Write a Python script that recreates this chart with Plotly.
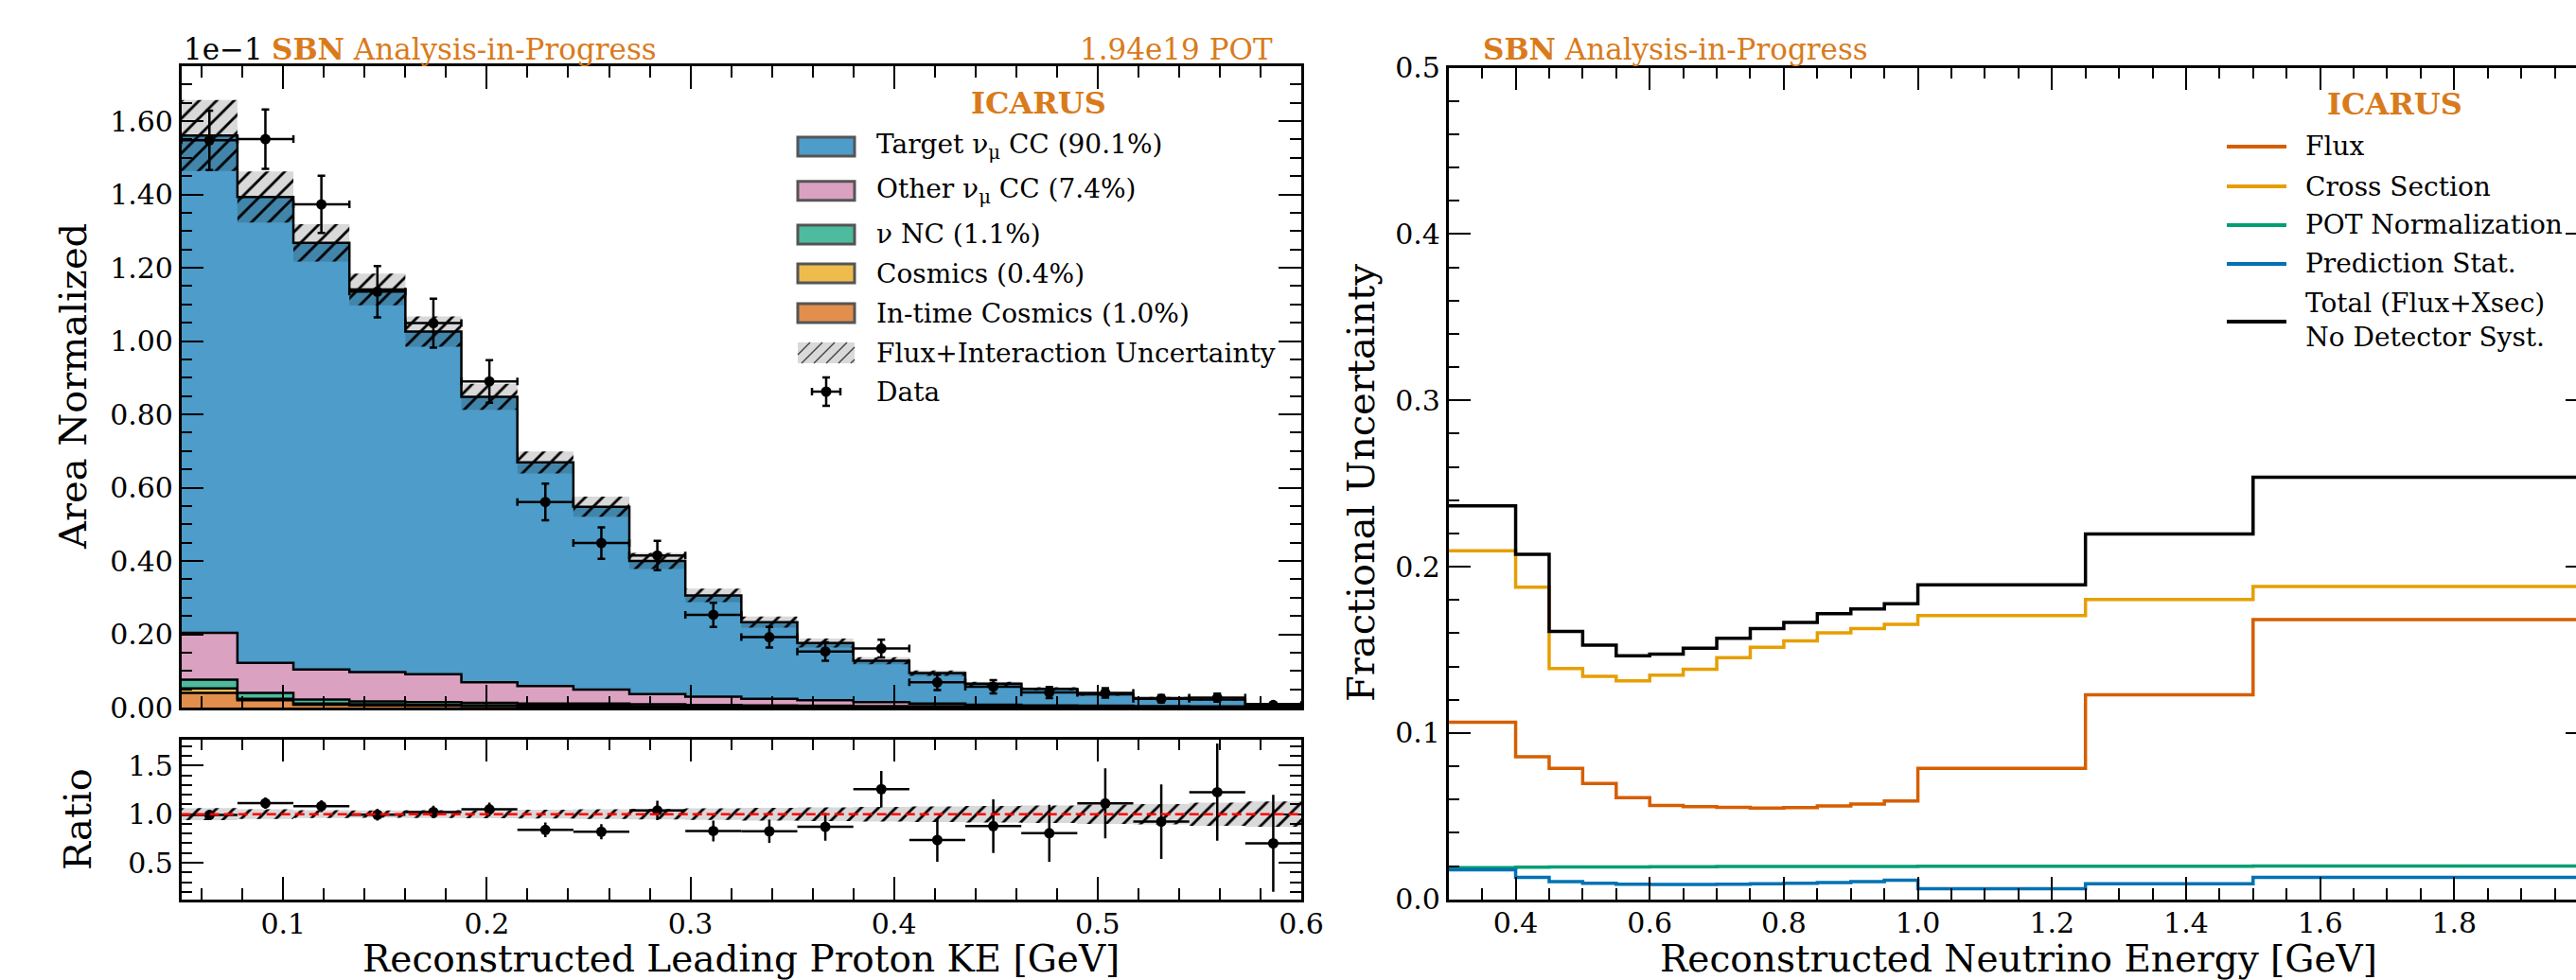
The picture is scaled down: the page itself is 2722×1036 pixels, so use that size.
import plotly.graph_objects as go

W, H = 2722, 1036
FONT = "DejaVu Serif, serif"
ORANGE_TXT = "#d97b1c"

# ---------------- Left panel: reconstructed leading proton KE (units of 1e-1) -------------
ke_edges = [0.05, 0.0775, 0.105, 0.1325, 0.16, 0.1875, 0.215, 0.2425, 0.27, 0.2975,
            0.325, 0.3525, 0.38, 0.4075, 0.435, 0.4625, 0.49, 0.5175, 0.545, 0.5725, 0.6]
target_numu_cc = [1.357, 1.271, 1.164, 1.044, 0.935, 0.779, 0.610, 0.499, 0.363, 0.276,
                  0.209, 0.156, 0.113, 0.083, 0.057, 0.045, 0.031, 0.022, 0.019, 0.008]
other_numu_cc = [0.128, 0.082, 0.082, 0.080, 0.076, 0.056, 0.048, 0.038, 0.028, 0.023,
                 0.018, 0.015, 0.011, 0.007, 0.004, 0.003, 0.003, 0.003, 0.002, 0.002]
nu_nc = [0.024, 0.016, 0.011, 0.008, 0.008, 0.007, 0.006, 0.006, 0.005, 0.004,
         0.003, 0.003, 0.002, 0.002, 0.002, 0.001, 0.001, 0.001, 0.001, 0.000]
cosmics = [0.012, 0.004, 0.003, 0.003, 0.002, 0.002, 0.002, 0.002, 0.002, 0.001,
           0.001, 0.001, 0.001, 0.001, 0.001, 0.001, 0.001, 0.000, 0.000, 0.000]
intime_cosmics = [0.040, 0.020, 0.008, 0.006, 0.005, 0.004, 0.003, 0.003, 0.002, 0.002,
                  0.002, 0.001, 0.001, 0.001, 0.001, 0.001, 0.000, 0.000, 0.000, 0.000]
flux_int_rel_unc = [0.062, 0.050, 0.040, 0.038, 0.040, 0.042, 0.045, 0.050, 0.055, 0.060,
                    0.065, 0.070, 0.075, 0.080, 0.085, 0.090, 0.100, 0.105, 0.120, 0.130]
data_vals = [1.548, 1.551, 1.373, 1.135, 1.049, 0.890, 0.561, 0.449, 0.415, 0.253,
             0.192, 0.153, 0.161, 0.069, 0.057, 0.041, 0.040, 0.024, 0.027, 0.007]
data_errs = [0.081, 0.081, 0.078, 0.070, 0.067, 0.058, 0.050, 0.043, 0.040, 0.033,
             0.028, 0.025, 0.024, 0.021, 0.018, 0.015, 0.013, 0.010, 0.011, 0.005]

component_names = ["In-time Cosmics (1.0%)", "Cosmics (0.4%)", "ν NC (1.1%)",
                   "Other ν<sub>μ</sub> CC (7.4%)", "Target ν<sub>μ</sub> CC (90.1%)"]
component_vals = [intime_cosmics, cosmics, nu_nc, other_numu_cc, target_numu_cc]
component_colors = ["#e28e4c", "#eebc4d", "#4dbb9d", "#dba1c1", "#4d9cc9"]

# ---------------- Right panel: fractional uncertainties vs reco neutrino energy -------------
enu_edges = [0.3, 0.4, 0.45, 0.5, 0.55, 0.6, 0.65, 0.7, 0.75, 0.8, 0.85, 0.9, 0.95, 1.0,
             1.25, 1.5, 2.0]
unc_flux = [0.1064, 0.0857, 0.0787, 0.0696, 0.0611, 0.0564, 0.0557, 0.0553, 0.0549, 0.0551,
            0.0562, 0.0572, 0.0591, 0.0787, 0.1230, 0.1681]
unc_xsec = [0.2096, 0.1877, 0.1387, 0.1340, 0.1313, 0.1347, 0.1383, 0.1453, 0.1515, 0.1553,
            0.1602, 0.1628, 0.1653, 0.1706, 0.1802, 0.1881]
unc_pot = [0.0190, 0.0193, 0.0194, 0.0195, 0.0195, 0.0196, 0.0196, 0.0197, 0.0197, 0.0197,
           0.0198, 0.0198, 0.0198, 0.0199, 0.0199, 0.0200]
unc_stat = [0.0177, 0.0132, 0.0106, 0.0096, 0.0091, 0.0089, 0.0089, 0.0091, 0.0094, 0.0096,
            0.0100, 0.0106, 0.0115, 0.0064, 0.0094, 0.0132]
unc_total = [0.2366, 0.2074, 0.1610, 0.1528, 0.1464, 0.1474, 0.1510, 0.1570, 0.1628, 0.1664,
             0.1717, 0.1745, 0.1777, 0.1890, 0.2196, 0.2538]
unc_names = ["Flux", "Cross Section", "POT Normalization", "Prediction Stat.",
             "Total (Flux+Xsec)<br>No Detector Syst."]
unc_vals = [unc_flux, unc_xsec, unc_pot, unc_stat, unc_total]
unc_colors = ["#d55e00", "#e69f00", "#009e73", "#0072b2", "#000000"]


def step(v):
    return list(v) + [v[-1]]


def px(x):
    return x / W


def py(y):
    return 1 - y / H


fig = go.Figure()

# stacked histogram
cum = [0.0] * len(target_numu_cc)
for i, (name, vals, col) in enumerate(zip(component_names, component_vals, component_colors)):
    cum = [c + v for c, v in zip(cum, vals)]
    fig.add_trace(go.Scatter(
        x=ke_edges, y=step(cum), mode="lines", line=dict(shape="hv", color="black", width=2.5),
        fill="tozeroy" if i == 0 else "tonexty", fillcolor=col, name=name, showlegend=False,
        xaxis="x", yaxis="y", hoverinfo="skip"))
total_mc = cum

# flux + interaction uncertainty band
lo = [t * (1 - r) for t, r in zip(total_mc, flux_int_rel_unc)]
hi = [t * (1 + r) for t, r in zip(total_mc, flux_int_rel_unc)]
hatch = dict(shape="/", fgcolor="black", bgcolor="rgba(0,0,0,0.15)", size=13, solidity=0.22)
fig.add_trace(go.Scatter(x=ke_edges, y=step(lo), mode="lines", line=dict(shape="hv", width=0),
                         showlegend=False, xaxis="x", yaxis="y", hoverinfo="skip"))
fig.add_trace(go.Scatter(x=ke_edges, y=step(hi), mode="lines", line=dict(shape="hv", width=0),
                         fill="tonexty", fillpattern=hatch, fillcolor="rgba(0,0,0,0.15)",
                         name="Flux+Interaction Uncertainty",
                         showlegend=False, xaxis="x", yaxis="y", hoverinfo="skip"))

centers = [(a + b) / 2 for a, b in zip(ke_edges[:-1], ke_edges[1:])]
halfw = [(b - a) / 2 for a, b in zip(ke_edges[:-1], ke_edges[1:])]
fig.add_trace(go.Scatter(
    x=centers, y=data_vals, mode="markers", marker=dict(color="black", size=11), name="Data",
    error_y=dict(type="data", array=data_errs, color="black", thickness=2.5, width=4),
    error_x=dict(type="data", array=halfw, color="black", thickness=2.5, width=4),
    showlegend=False, xaxis="x", yaxis="y"))

# ratio panel
rlo = [1 - r for r in flux_int_rel_unc]
rhi = [1 + r for r in flux_int_rel_unc]
fig.add_trace(go.Scatter(x=ke_edges, y=step(rlo), mode="lines", line=dict(shape="hv", width=0),
                         showlegend=False, xaxis="x2", yaxis="y2", hoverinfo="skip"))
fig.add_trace(go.Scatter(x=ke_edges, y=step(rhi), mode="lines", line=dict(shape="hv", width=0),
                         fill="tonexty", fillpattern=hatch, fillcolor="rgba(0,0,0,0.15)",
                         showlegend=False, xaxis="x2", yaxis="y2", hoverinfo="skip"))
ratio = [d / t for d, t in zip(data_vals, total_mc)]
ratio_err = [e / t for e, t in zip(data_errs, total_mc)]
fig.add_trace(go.Scatter(
    x=centers, y=ratio, mode="markers", marker=dict(color="black", size=11),
    error_y=dict(type="data", array=ratio_err, color="black", thickness=2.5, width=0),
    error_x=dict(type="data", array=halfw, color="black", thickness=2.5, width=0),
    showlegend=False, xaxis="x2", yaxis="y2"))

# right panel
for name, vals, col in zip(unc_names, unc_vals, unc_colors):
    fig.add_trace(go.Scatter(x=enu_edges, y=step(vals), mode="lines",
                             line=dict(shape="hv", color=col, width=3.5), name=name,
                             showlegend=False, xaxis="x3", yaxis="y3"))
fig.add_trace(go.Scatter(x=[None], y=[None], mode="lines", showlegend=False,
                         xaxis="x3", yaxis="y4", hoverinfo="skip"))

# ---------------- axes ----------------
LX = [px(191.7), px(1375)]
RX = [px(1530.7), 1.0]
common = dict(showline=True, linecolor="black", linewidth=2.5, ticks="inside", ticklen=24,
              tickwidth=2, tickcolor="black", showgrid=False, zeroline=False, automargin=False,
              tickfont=dict(family=FONT, size=30, color="black"))


def minor(d, t0=0):
    return dict(ticks="inside", ticklen=12, tickwidth=2, tickcolor="black", dtick=d, tick0=t0,
                showgrid=False)


x_right_max = 0.3 + (W - 1530.7) / 708.4
fig.update_layout(
    template="none",
    width=W, height=H, margin=dict(l=0, r=0, t=0, b=0, pad=0, autoexpand=False),
    paper_bgcolor="white", plot_bgcolor="white", showlegend=False,
    font=dict(family=FONT, size=30, color="black"),
    xaxis=dict(domain=LX, anchor="y", range=[0.05, 0.6], dtick=0.1, tick0=0,
               showticklabels=False, mirror="ticks", minor=minor(0.02), **common),
    yaxis=dict(domain=[py(748), py(70)], anchor="x", range=[0, 1.75], dtick=0.2, tick0=0,
               tickformat=".2f", mirror="ticks", minor=minor(0.05), **common),
    xaxis2=dict(domain=LX, anchor="y2", range=[0.05, 0.6], dtick=0.1, tick0=0,
                tickformat=".1f", mirror="ticks", minor=minor(0.02), ticklabelstandoff=-3,
                **common),
    yaxis2=dict(domain=[py(951), py(781.7)], anchor="x2", range=[0.12, 1.77], dtick=0.5,
                tick0=0, tickformat=".1f", mirror="ticks", minor=minor(0.1), **common),
    xaxis3=dict(domain=RX, anchor="y3", range=[0.3, x_right_max], dtick=0.2, tick0=0,
                tickformat=".1f", mirror="ticks", minor=minor(0.05, 0.3), ticklabelstandoff=-3,
                **common),
    yaxis3=dict(domain=[py(950.7), py(71.5)], anchor="x3", range=[0, 0.5], dtick=0.1, tick0=0,
                tickformat=".1f", mirror=False, minor=minor(0.02), **common),
    yaxis4=dict(overlaying="y3", side="right", anchor="x3", range=[0, 0.5], dtick=0.1, tick0=0,
                showline=False, showgrid=False, zeroline=False, ticks="inside", ticklen=11,
                tickwidth=2, tickcolor="black", showticklabels=False, automargin=False),
)

shapes = []
annotations = []

# red dashed unity line in ratio panel
shapes.append(dict(type="line", xref="x2 domain", x0=0, x1=1, yref="y2", y0=1, y1=1,
                   line=dict(color="red", width=2.5, dash="10px,5px"), layer="above"))


# ---------------- text ----------------
def ann(text, x, y, size, color="black", xanchor="left", yanchor="middle", angle=0):
    annotations.append(dict(text=text, x=px(x), y=py(y), xref="paper", yref="paper",
                            showarrow=False, xanchor=xanchor, yanchor=yanchor, borderpad=0,
                            textangle=angle, font=dict(family=FONT, size=size, color=color)))


ann("1e−1", 193, 52, 31)
ann("<b>SBN</b> Analysis-in-Progress", 286, 52, 31, ORANGE_TXT)
ann("1.94e19 POT", 1346, 52, 31, ORANGE_TXT, xanchor="right")
ann("<b>SBN</b> Analysis-in-Progress", 1566, 52, 31, ORANGE_TXT)

ann("Area Normalized", 77, 409, 40, xanchor="center", angle=-90)
ann("Ratio", 82, 866, 40, xanchor="center", angle=-90)
ann("Reconstructed Leading Proton KE [GeV]", 783, 1013.5, 39, xanchor="center")
ann("Fractional Uncertainty", 1438, 511, 40, xanchor="center", angle=-90)
ann("Reconstructed Neutrino Energy [GeV]", 2133, 1013.5, 39, xanchor="center")

# ---------------- left legend ----------------
ann("<b>ICARUS</b>", 1097, 109, 32, ORANGE_TXT, xanchor="center")
leg_rows = [155, 201.7, 248, 289, 331]
for name, col, yc in zip(component_names[::-1], component_colors[::-1], leg_rows):
    shapes.append(dict(type="rect", xref="paper", yref="paper", x0=px(843), x1=px(903),
                       y0=py(yc + 10), y1=py(yc - 10), fillcolor=col,
                       line=dict(color="#555555", width=3)))
    ann(name, 925, yc, 28)
# hatched swatch
hx0, hx1, hy0, hy1 = 843, 903, 362, 384
shapes.append(dict(type="rect", xref="paper", yref="paper", x0=px(hx0), x1=px(hx1),
                   y0=py(hy1), y1=py(hy0), fillcolor="#d9d9d9", line=dict(width=0)))
hh = hy1 - hy0
a = hx0 - hh
while a < hx1:
    t0 = max(0.0, (hx0 - a) / hh)
    t1 = min(1.0, (hx1 - a) / hh)
    if t1 > t0:
        shapes.append(dict(type="line", xref="paper", yref="paper",
                           x0=px(a + t0 * hh), y0=py(hy1 - t0 * hh),
                           x1=px(a + t1 * hh), y1=py(hy1 - t1 * hh),
                           line=dict(color="#444444", width=1.5)))
    a += 13
ann("Flux+Interaction Uncertainty", 925, 373, 28)
# data symbol
cx, cy = 873, 414
seg = [((cx, cy - 15), (cx, cy + 15)), ((cx - 15, cy), (cx + 15, cy)),
       ((cx - 4, cy - 15), (cx + 4, cy - 15)), ((cx - 4, cy + 15), (cx + 4, cy + 15)),
       ((cx - 15, cy - 4), (cx - 15, cy + 4)), ((cx + 15, cy - 4), (cx + 15, cy + 4))]
for (x0, y0), (x1, y1) in seg:
    shapes.append(dict(type="line", xref="paper", yref="paper", x0=px(x0), x1=px(x1),
                       y0=py(y0), y1=py(y1), line=dict(color="black", width=2.5)))
shapes.append(dict(type="circle", xref="paper", yref="paper", x0=px(cx - 5.5), x1=px(cx + 5.5),
                   y0=py(cy + 5.5), y1=py(cy - 5.5), fillcolor="black", line=dict(width=0)))
ann("Data", 925, 414, 28)

# ---------------- right legend ----------------
ann("<b>ICARUS</b>", 2530, 110, 32, ORANGE_TXT, xanchor="center")
r_rows = [155, 197, 238, 279, 340]
for name, col, yc in zip(unc_names, unc_colors, r_rows):
    shapes.append(dict(type="line", xref="paper", yref="paper", x0=px(2353), x1=px(2416),
                       y0=py(yc), y1=py(yc), line=dict(color=col, width=4)))
    ann(name, 2435, yc - 2 if "<br>" in name else yc, 28)

fig.update_layout(shapes=shapes, annotations=annotations)
fig.write_html("out.html", config={"displayModeBar": False, "responsive": False},
               post_script="document.body.style.margin='0';document.body.style.overflow='hidden';")
